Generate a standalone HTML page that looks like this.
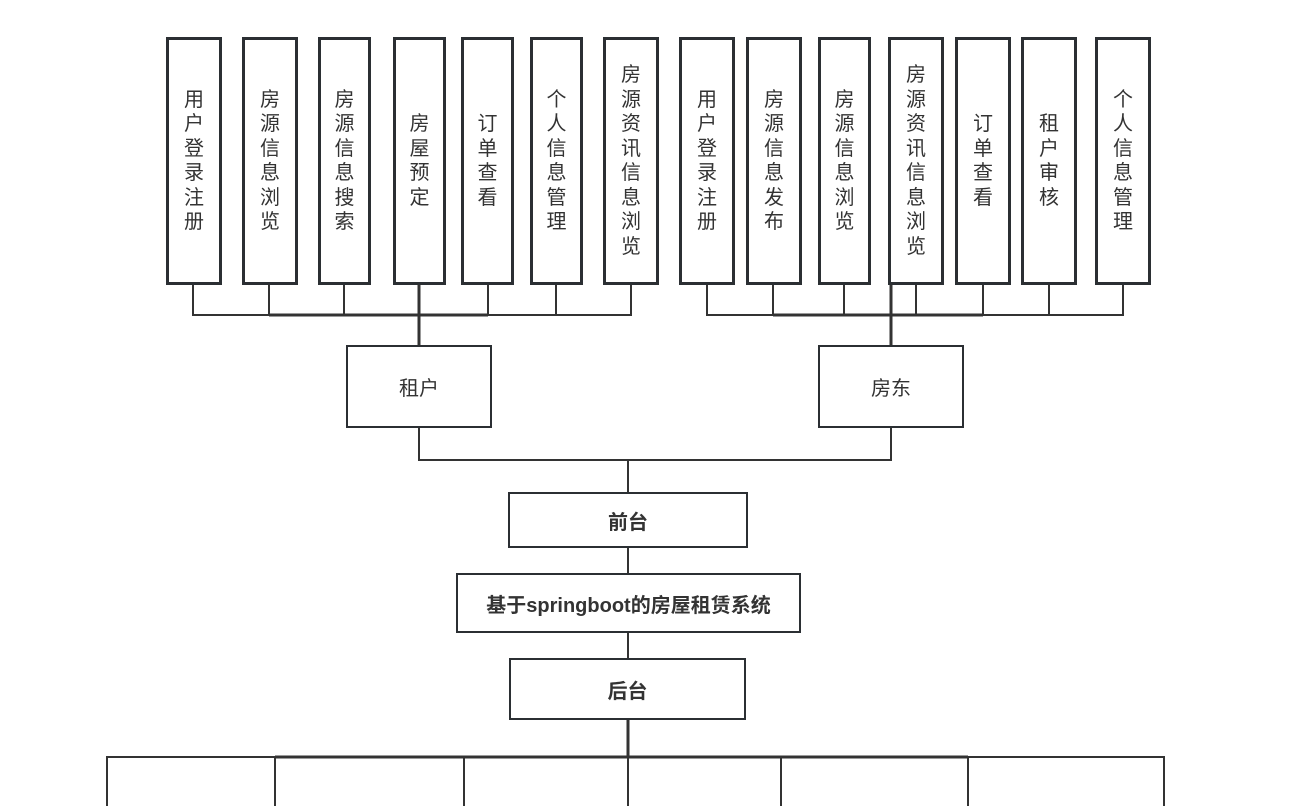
<!DOCTYPE html>
<html><head><meta charset="utf-8"><style>
body{margin:0;width:1290px;height:806px;background:#fff;position:relative;overflow:hidden;font-family:"Liberation Sans","Noto Sans CJK SC",sans-serif;color:#333}
.v{position:absolute;top:37px;height:248px;border:3px solid #2b2f33;box-sizing:border-box;display:flex;align-items:center;justify-content:center;text-align:center;font-size:20px;line-height:24.5px}
.b{position:absolute;border:2px solid #2b2f33;box-sizing:border-box;display:flex;align-items:center;justify-content:center;font-size:20px}
.bold{font-weight:bold;border-width:2.5px}
svg{position:absolute;left:0;top:0}
</style></head><body>
<svg width="1290" height="806" stroke="#333" fill="none">
<g stroke-width="2">
<path d="M193 284V315H631V284M269 284V315M344 284V315M488 284V315M556 284V315"/>
<path d="M707 284V315H1123V284M773 284V315M844 284V315M916 284V315M983 284V315M1049 284V315"/>
<path d="M419 427V460H891V427M628 460V493M628 547V574M628 632V659"/>
<path d="M107 806V757H1164V806M275 757V806M464 757V806M781 757V806M968 757V806M628 757V806"/>
</g>
<g stroke-width="3">
<path d="M419 284V346M891 284V346M628 719V757M269 315H488M773 315H983M275 757H968"/>
</g>
</svg>
<div class="v" style="left:166px;width:56px">用<br>户<br>登<br>录<br>注<br>册</div>
<div class="v" style="left:242px;width:56px">房<br>源<br>信<br>息<br>浏<br>览</div>
<div class="v" style="left:318px;width:53px">房<br>源<br>信<br>息<br>搜<br>索</div>
<div class="v" style="left:393px;width:53px">房<br>屋<br>预<br>定</div>
<div class="v" style="left:461px;width:53px">订<br>单<br>查<br>看</div>
<div class="v" style="left:530px;width:53px">个<br>人<br>信<br>息<br>管<br>理</div>
<div class="v" style="left:603px;width:56px">房<br>源<br>资<br>讯<br>信<br>息<br>浏<br>览</div>
<div class="v" style="left:679px;width:56px">用<br>户<br>登<br>录<br>注<br>册</div>
<div class="v" style="left:746px;width:56px">房<br>源<br>信<br>息<br>发<br>布</div>
<div class="v" style="left:818px;width:53px">房<br>源<br>信<br>息<br>浏<br>览</div>
<div class="v" style="left:888px;width:56px">房<br>源<br>资<br>讯<br>信<br>息<br>浏<br>览</div>
<div class="v" style="left:955px;width:56px">订<br>单<br>查<br>看</div>
<div class="v" style="left:1021px;width:56px">租<br>户<br>审<br>核</div>
<div class="v" style="left:1095px;width:56px">个<br>人<br>信<br>息<br>管<br>理</div>
<div class="b" style="left:346px;top:345px;width:146px;height:83px">租户</div>
<div class="b" style="left:818px;top:345px;width:146px;height:83px">房东</div>
<div class="b bold" style="left:508px;top:492px;width:240px;height:56px">前台</div>
<div class="b bold" style="left:456px;top:573px;width:345px;height:60px">基于springboot的房屋租赁系统</div>
<div class="b bold" style="left:509px;top:658px;width:237px;height:62px">后台</div>
</body></html>
